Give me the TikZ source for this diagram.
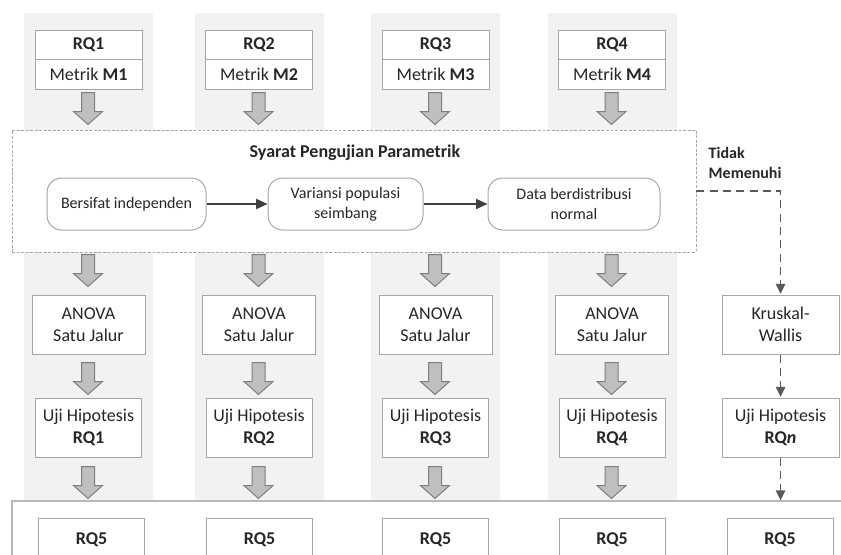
\documentclass[tikz,border=0pt]{standalone}
\usepackage{fontspec}
\setmainfont{Carlito}
\usetikzlibrary{arrows.meta,calc}
\definecolor{colbg}{HTML}{F2F2F2}
\definecolor{boxline}{HTML}{A6A6A6}
\definecolor{txt}{HTML}{262626}
\definecolor{arrfill}{HTML}{BFBFBF}
\definecolor{arrline}{HTML}{7F7F7F}
\definecolor{condline}{HTML}{A6A6A6}
\definecolor{connline}{HTML}{595959}
\definecolor{flowline}{HTML}{404040}
\begin{document}
\begin{tikzpicture}[x=0.75pt,y=-0.75pt,
  every node/.style={text=txt},
  bigfont/.style={font=\fontsize{13.5}{16.5}\selectfont},
  smallfont/.style={font=\fontsize{12}{15}\selectfont},
  box/.style={draw=boxline, fill=white, line width=0.75pt, inner sep=0pt,
    align=center, bigfont},
  headbox/.style={box, minimum width=80.25pt, minimum height=21.75pt},
  metbox/.style={box, minimum width=80.25pt, minimum height=22.5pt},
  anovabox/.style={box, minimum width=84.75pt, minimum height=44.25pt},
  ujibox/.style={box, minimum width=79.5pt, minimum height=44.25pt},
  widebox/.style={box, minimum width=87.75pt, minimum height=44.25pt},
  resbox/.style={box, minimum width=79.5pt, minimum height=33pt},
  roundbox/.style={draw=boxline, fill=white, line width=0.75pt, rounded corners=11pt,
    minimum height=39pt, inner sep=0pt, align=center, smallfont},
  condbox/.style={draw=condline, fill=white, line width=0.6pt,
    dash pattern=on 2.2pt off 1.2pt, minimum width=513pt, minimum height=91.5pt, inner sep=0pt},
  flow/.style={draw=flowline, line width=1.2pt, -{Triangle[length=8.5pt,width=7.5pt]}},
  conn/.style={draw=connline, line width=1.4pt, dash pattern=on 6pt off 4pt,
    -{Triangle[length=7.5pt,width=7pt]}, shorten >=0.5pt},
  blockarrow/.pic={\draw[draw=arrline, fill=arrfill, line width=0.75pt, line join=miter]
    (-6.5,0) -- (6.5,0) -- (6.5,19) -- (14.5,19) -- (0,32) -- (-14.5,19) -- (-6.5,19) -- cycle;}
]
\clip (0,0) rectangle (841,554);

% shaded column strips
\foreach \c in {88.5,259.5,435.5,612.5}
  \fill[colbg] (\c-64.5,13) rectangle (\c+64.5,501);

% frame of the result row
\draw[draw=boxline!80, line width=1.1pt] (12,560) -- (12,501) -- (850,501);

% parameter columns
\foreach \i/\c in {1/88.5,2/259,3/435.5,4/612}{
  \node[headbox] (rq\i) at (\c,44.5) {\textbf{RQ\i}};
  \node[metbox] (met\i) at (\c,74) {Metrik \textbf{M\i}};
  \node[anovabox] (anova\i) at (\c,324.5) {ANOVA\\Satu Jalur};
  \node[ujibox] (uji\i) at (\c,427.5) {Uji Hipotesis\\\textbf{RQ\i}};
  \pic at ($(met\i.south)+(-0.5,3)$) {blockarrow};
  \pic at ($(anova\i.north)+(-0.5,-40)$) {blockarrow};
  \pic at ($(anova\i.south)+(-0.5,8)$) {blockarrow};
  \pic at ($(uji\i.south)+(-0.5,9)$) {blockarrow};
}

% result boxes
\foreach \i/\c in {1/91.5,2/259.5,3/435.5,4/612,5/780}
  \node[resbox] (res\i) at (\c,540) {\textbf{RQ5}};

% parametric test requirements
\node[condbox] (cond) at (354,191) {};
\node[bigfont] (condtitle) at (355,153) {\textbf{Syarat Pengujian Parametrik}};
\node[roundbox, minimum width=119.25pt] (req1) at (126.5,204) {Bersifat independen};
\node[roundbox, minimum width=116.25pt] (req2) at (345.5,204) {Variansi populasi\\seimbang};
\node[roundbox, minimum width=129pt] (req3) at (574,204) {Data berdistribusi\\normal};
\draw[flow] (req1) -- (req2);
\draw[flow] (req2) -- (req3);

% non-parametric branch
\node[smallfont, anchor=west, align=left] (notmet) at (704,163) {\textbf{Tidak}\\\textbf{Memenuhi}};
\node[widebox] (kw) at (780.5,324.5) {Kruskal-\\Wallis};
\node[widebox] (rqn) at (780.5,427.5) {Uji Hipotesis\\\textbf{RQ\textit{n}}};
\coordinate (rqnend) at (780.5,501);
\draw[conn] (cond.east) -| (kw.north);
\draw[conn] (kw) -- (rqn);
\draw[conn] (rqn) -- (rqnend);
\end{tikzpicture}
\end{document}
